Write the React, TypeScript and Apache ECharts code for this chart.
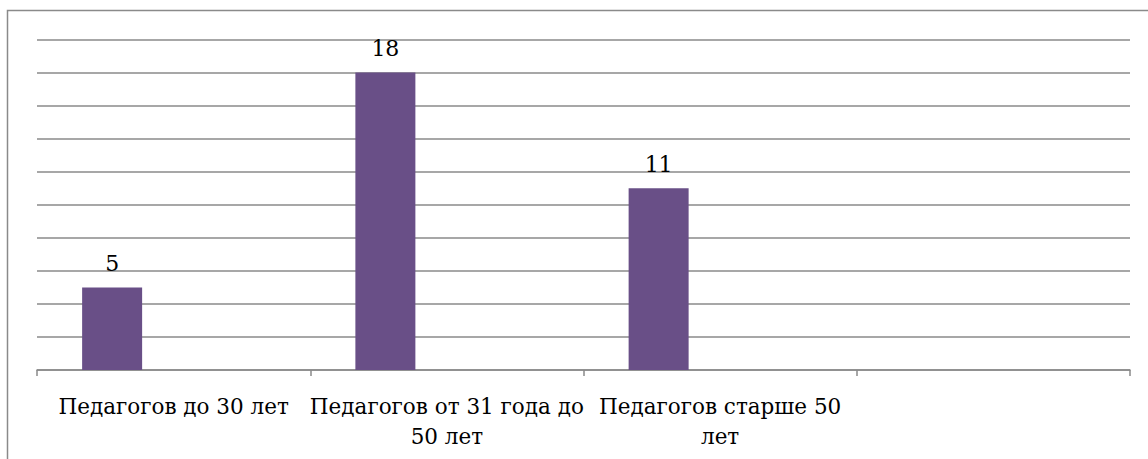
import React, { useEffect, useRef } from "react";
import * as echarts from "echarts";

const categories = [
  "Педагогов до 30 лет",
  "Педагогов от 31 года до\n50 лет",
  "Педагогов старше 50\nлет",
  "",
];
const values = [5, 18, 11, null];
const emptySeries = [null, null, null, null];
const yMin = 0;
const yMax = 20;
const yInterval = 2;

const FONT = "DejaVu Serif";

export default function App() {
  const ref = useRef<HTMLDivElement>(null);
  useEffect(() => {
    if (!ref.current) return;
    const chart = echarts.init(ref.current, undefined, { renderer: "svg" });
    chart.setOption({
      animation: false,
      backgroundColor: "#ffffff",
      graphic: [
        {
          type: "rect",
          shape: { x: 7.5, y: 10.5, width: 1160, height: 470 },
          style: { fill: "none", stroke: "#8a8a8a", lineWidth: 1.5 },
          silent: true,
        },
      ],
      grid: {
        left: 37,
        right: 18,
        top: 39.5,
        bottom: 89,
        containLabel: false,
        outerBoundsMode: "none",
      },
      xAxis: {
        type: "category",
        data: categories,
        boundaryGap: true,
        axisLine: { show: true, lineStyle: { color: "#8a8a8a", width: 1.5 } },
        axisTick: { show: true, length: 6, alignWithLabel: false, lineStyle: { color: "#8a8a8a", width: 1.5 } },
        axisLabel: {
          interval: 0,
          color: "#000",
          fontFamily: FONT,
          fontSize: 21.5,
          lineHeight: 30,
          margin: 21,
          hideOverlap: false,
        },
      },
      yAxis: {
        type: "value",
        min: yMin,
        max: yMax,
        interval: yInterval,
        axisLine: { show: false },
        axisTick: { show: false },
        axisLabel: { show: false },
        splitLine: { show: true, lineStyle: { color: "#8a8a8a", width: 1.5 } },
      },
      series: [
        {
          type: "bar",
          data: values,
          barWidth: 60,
          barGap: "105%",
          itemStyle: { color: "#694f87" },
          label: {
            show: true,
            position: "top",
            distance: 13,
            color: "#000",
            fontFamily: FONT,
            fontSize: 22,
          },
        },
        {
          type: "bar",
          data: emptySeries,
          barWidth: 60,
          barGap: "105%",
          itemStyle: { color: "#4f81bd" },
        },
      ],
    });
    return () => chart.dispose();
  }, []);
  return (
    <div
      ref={ref}
      style={{ position: "fixed", left: 0, top: 0, width: 1148, height: 459 }}
    />
  );
}
